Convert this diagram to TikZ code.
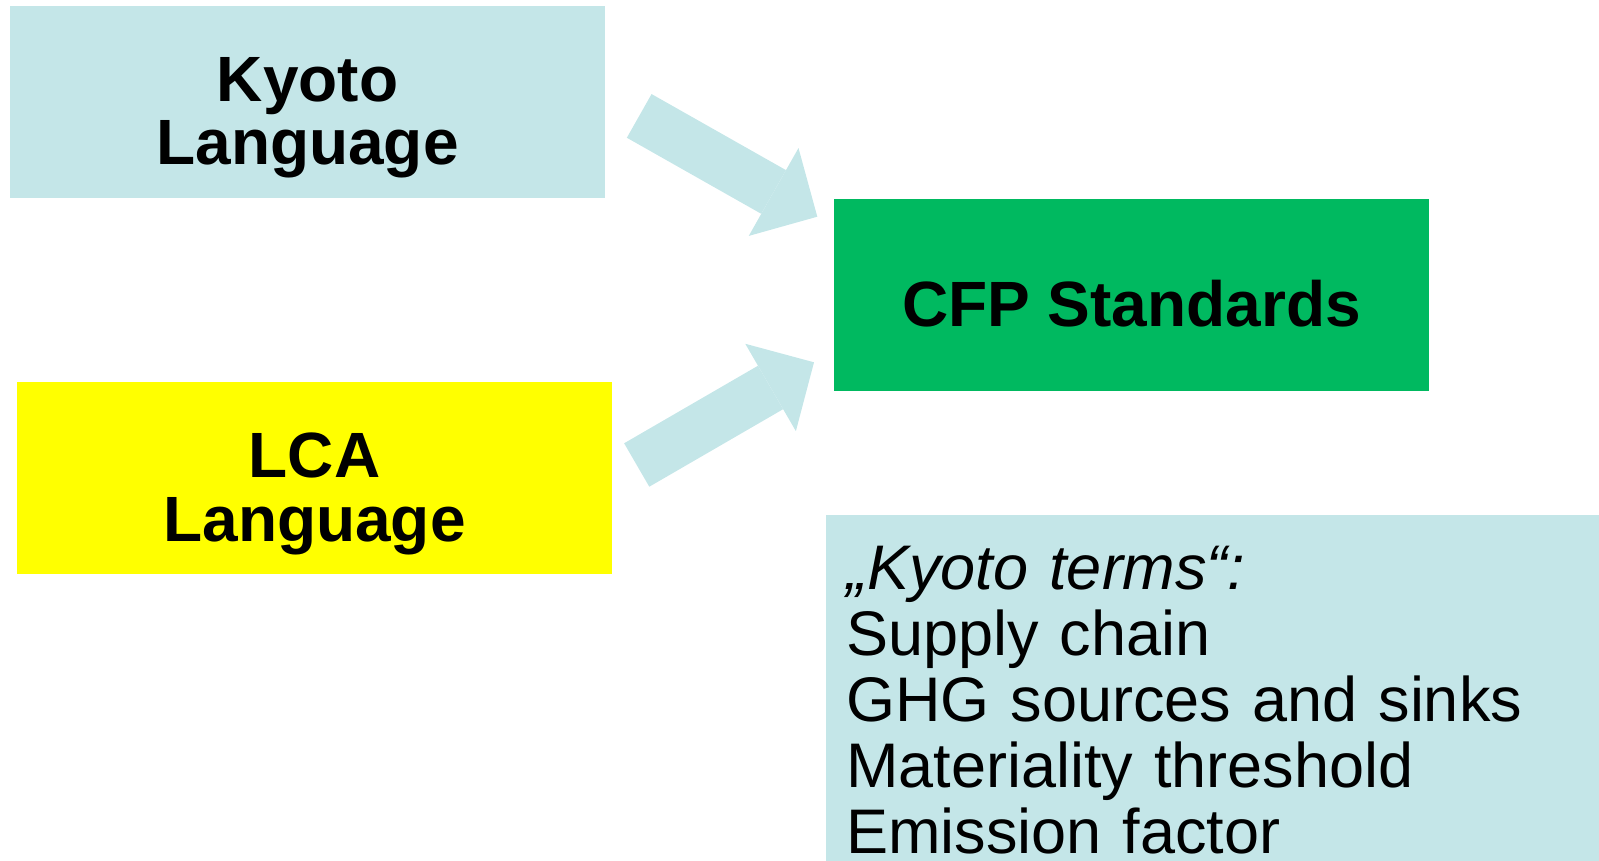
\documentclass[tikz,border=0pt]{standalone}
\usepackage{fontspec}
\setmainfont{Liberation Sans}
\usepackage{tikz}
\usetikzlibrary{arrows.meta}
\definecolor{kyotoblue}{RGB}{196,230,232}
\definecolor{cfpgreen}{RGB}{0,185,96}
\definecolor{lcayellow}{RGB}{255,255,0}

\begin{document}
\begin{tikzpicture}[x=0.5pt,y=-0.5pt,
    box/.style={rectangle,inner sep=0pt,minimum width=297.5pt,minimum height=96pt},
    title/.style={inner sep=0pt,align=center,font=\fontsize{32}{31.9}\selectfont\bfseries},
    bigarrow/.style={kyotoblue,line width=25.1pt,-{Triangle[width=50.5pt,length=25.1pt,line width=0pt]}}]
    \useasboundingbox (0,0) rectangle (1599,861);

    \node[box,fill=kyotoblue](kyoto) at (307.5,102.5) {};
    \node[box,fill=lcayellow](lca) at (314.5,478) {};
    \node[box,fill=cfpgreen](cfp) at (1131.5,295) {};

    \node[title,anchor=north](kyototext) at ([yshift=-25.3pt]kyoto.north) {Kyoto\\Language};
    \node[title,anchor=north](lcatext) at ([yshift=-25.5pt]lca.north) {LCA\\Language};
    \node[title,anchor=north](cfptext) at ([yshift=-40.4pt]cfp.north) {CFP Standards};

    \node[fill=kyotoblue,anchor=north west,align=left,text width=390pt,inner xsep=10pt,inner ysep=15.5pt,
      font=\fontsize{31.5}{33}\selectfont](terms) at (826,515)
      {{\itshape „Kyoto terms“:}\\Supply chain\\GHG sources and sinks\\Materiality threshold\\Emission factor};

    \coordinate (kyotoarrow) at (639.2,115.9);
    \coordinate (kyotoarrowtip) at (817.3,216.7);
    \coordinate (lcaarrow) at (636.7,465);
    \coordinate (lcaarrowtip) at (814,362.3);

    \draw[bigarrow] (kyotoarrow) -- (kyotoarrowtip);
    \draw[bigarrow] (lcaarrow) -- (lcaarrowtip);
\end{tikzpicture}
\end{document}
